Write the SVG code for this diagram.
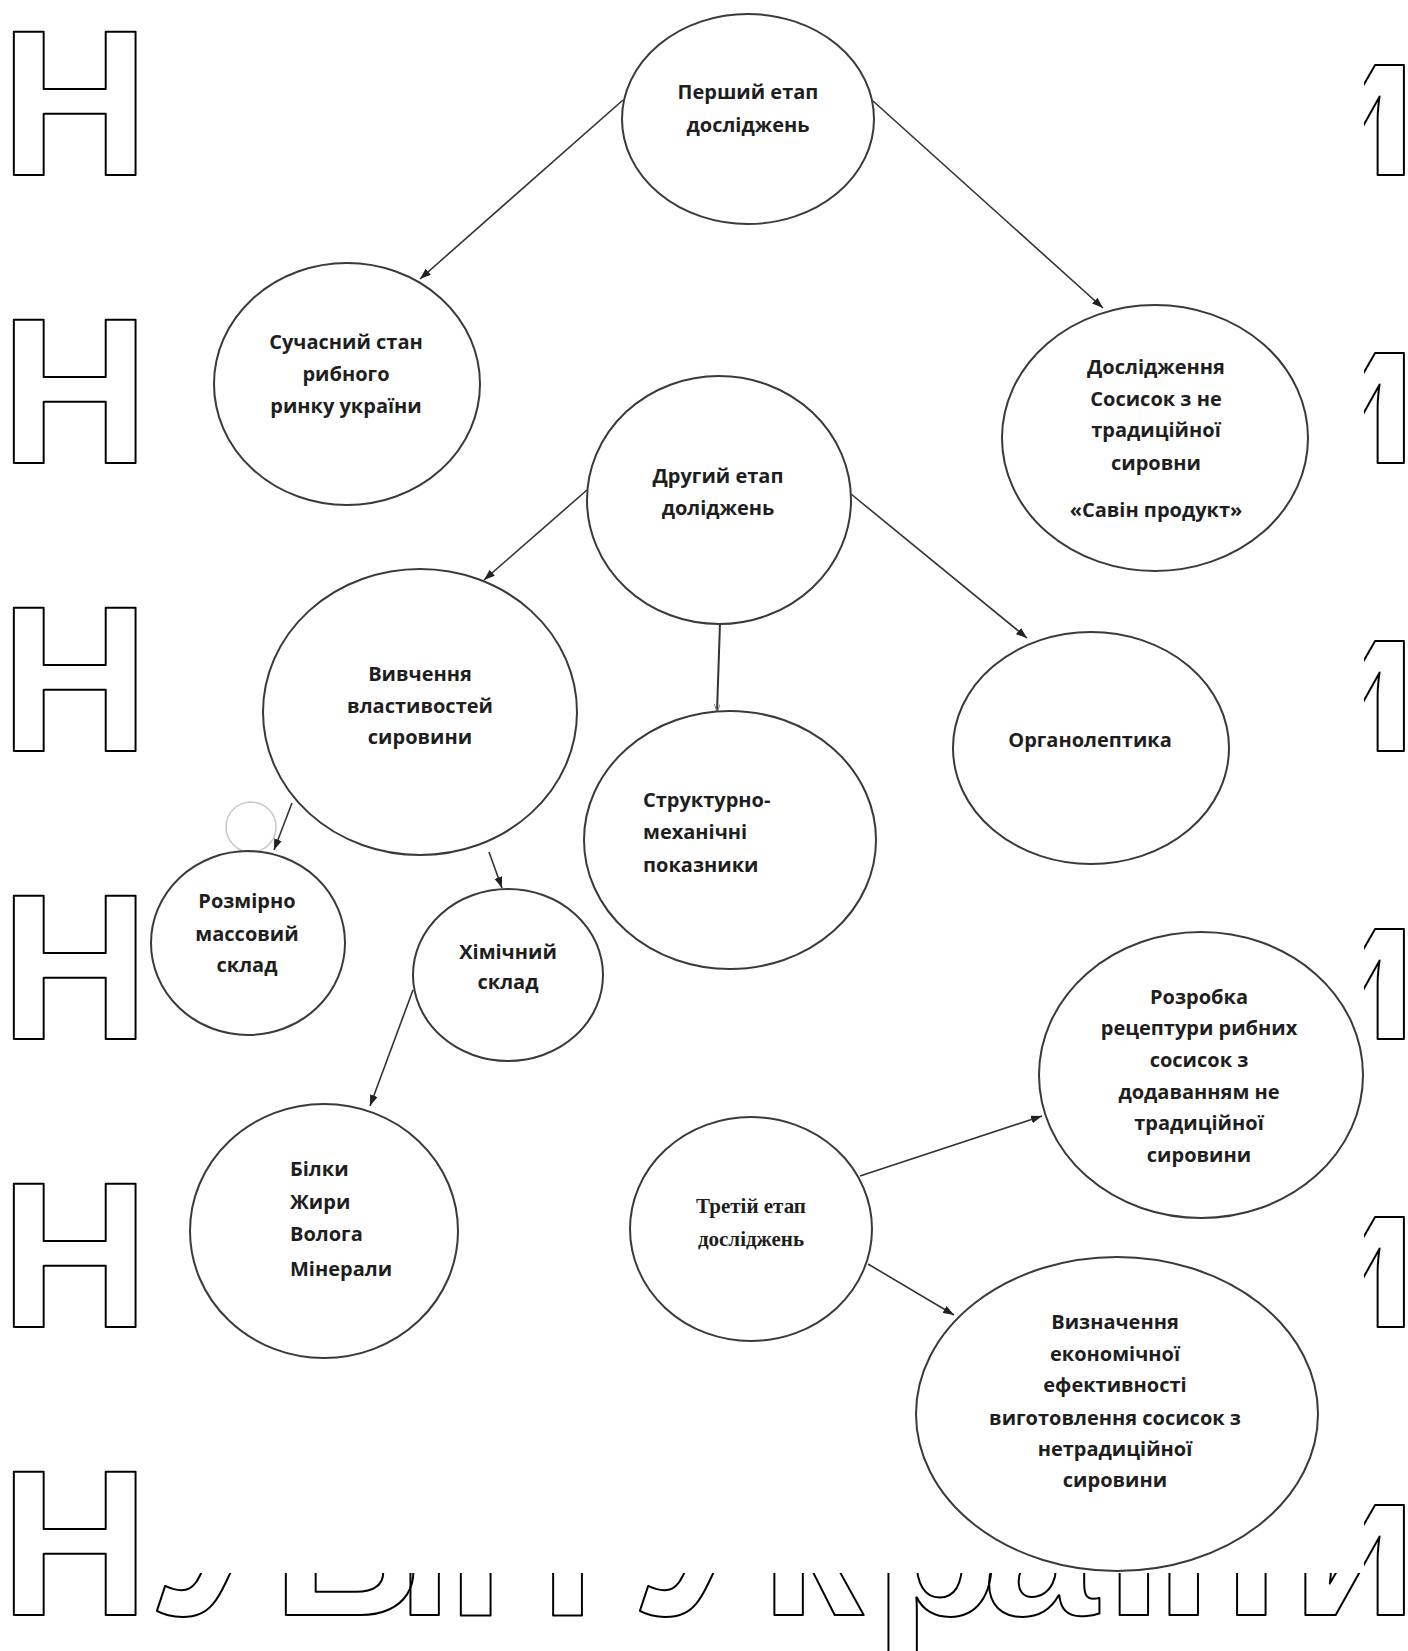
<svg xmlns="http://www.w3.org/2000/svg" width="1408" height="1651" viewBox="0 0 1408 1651">
<style>
.wm{font-family:"Liberation Sans",Arial,sans-serif;font-weight:700;font-size:207px;fill:none;stroke:#000;stroke-width:2;stroke-linejoin:round}
.node ellipse{fill:none;stroke:#3a3a3a;stroke-width:2}
.lbl{font-family:"Open Sans","Noto Sans",sans-serif;font-weight:700;font-size:20px;fill:#1e1e1e;text-anchor:middle}
.lft{text-anchor:start}
.serif{font-family:"Liberation Serif","DejaVu Serif",serif;font-weight:700;font-size:21px;fill:#1e1e1e;text-anchor:middle}
.conn line{stroke:#333;stroke-width:1.6;marker-end:url(#arr)}
</style>
<defs>
<marker id="arr" markerUnits="userSpaceOnUse" markerWidth="11" markerHeight="8" refX="11" refY="4" orient="auto"><path d="M0,0 L11,4 L0,8 z" fill="#222"/></marker>
<marker id="arrs" markerUnits="userSpaceOnUse" markerWidth="8" markerHeight="6" refX="8" refY="3" orient="auto"><path d="M0,0 L8,3 L0,6" fill="none" stroke="#888" stroke-width="1"/></marker>
<clipPath id="wmright"><rect x="1364" y="0" width="44" height="1651"/></clipPath>
<clipPath id="wmbottom">
<rect x="0" y="0" width="143" height="1651"/>
<rect x="1364" y="0" width="44" height="1651"/>
<rect x="0" y="1573" width="1408" height="78"/>
</clipPath>
</defs>
<rect width="1408" height="1651" fill="#fff"/>
<g id="watermark">
<text class="wm" x="0" y="175">Н</text>
<text class="wm" x="0" y="463">Н</text>
<text class="wm" x="0" y="751">Н</text>
<text class="wm" x="0" y="1039">Н</text>
<text class="wm" x="0" y="1327">Н</text>
<g clip-path="url(#wmright)">
<text class="wm" x="1291" y="175">и</text>
<text class="wm" x="1291" y="463">и</text>
<text class="wm" x="1291" y="751">и</text>
<text class="wm" x="1291" y="1039">и</text>
<text class="wm" x="1291" y="1327">и</text>
</g>
<text class="wm" clip-path="url(#wmbottom)" x="0 148 272 396 447 580 631 760 874 983 1105 1155 1291" y="1615">НУБіП України</text>
</g>
<circle cx="251" cy="827" r="25" fill="none" stroke="#c8c8c8" stroke-width="1.5"/>
<g id="connectors" class="conn">
<line x1="623" y1="100" x2="420" y2="279"/>
<line x1="873" y1="101" x2="1103" y2="308"/>
<line x1="587" y1="490" x2="484" y2="580"/>
<line x1="720" y1="623" x2="717" y2="712" style="marker-end:url(#arrs);stroke-width:2"/>
<line x1="851" y1="494" x2="1027" y2="638"/>
<line x1="292" y1="803" x2="274" y2="850"/>
<line x1="489" y1="852" x2="502" y2="888"/>
<line x1="413" y1="990" x2="370" y2="1106"/>
<line x1="860" y1="1176" x2="1042" y2="1116"/>
<line x1="868" y1="1264" x2="954" y2="1315"/>
</g>
<g id="n1" class="node"><ellipse cx="748" cy="119" rx="126" ry="105"/>
<text class="lbl" x="748" y="99">Перший етап</text><text class="lbl" x="748" y="132">досліджень</text></g>
<g id="n2" class="node"><ellipse cx="347" cy="384" rx="133" ry="121"/>
<text class="lbl" x="346" y="349">Сучасний стан</text><text class="lbl" x="346" y="381">рибного</text><text class="lbl" x="346" y="413">ринку україни</text></g>
<g id="n3" class="node"><ellipse cx="1155" cy="438" rx="153" ry="133"/>
<text class="lbl" x="1156" y="374">Дослідження</text><text class="lbl" x="1156" y="406">Сосисок з не</text><text class="lbl" x="1156" y="437">традиційної</text><text class="lbl" x="1156" y="470">сировни</text><text class="lbl" x="1156" y="517">«Савін продукт»</text></g>
<g id="n4" class="node"><ellipse cx="719" cy="500" rx="132" ry="124"/>
<text class="lbl" x="718" y="483">Другий етап</text><text class="lbl" x="718" y="515">доліджень</text></g>
<g id="n5" class="node"><ellipse cx="420" cy="712" rx="157" ry="143"/>
<text class="lbl" x="420" y="681">Вивчення</text><text class="lbl" x="420" y="713">властивостей</text><text class="lbl" x="420" y="744">сировини</text></g>
<g id="n6" class="node"><ellipse cx="730" cy="840" rx="146" ry="129"/>
<text class="lbl lft" x="643" y="807">Структурно-</text><text class="lbl lft" x="643" y="839">механічні</text><text class="lbl lft" x="643" y="872">показники</text></g>
<g id="n7" class="node"><ellipse cx="1091" cy="748" rx="138" ry="116"/>
<text class="lbl" x="1090" y="747">Органолептика</text></g>
<g id="n8" class="node"><ellipse cx="248" cy="943" rx="97" ry="92"/>
<text class="lbl" x="247" y="908">Розмірно</text><text class="lbl" x="247" y="941">массовий</text><text class="lbl" x="247" y="972">склад</text></g>
<g id="n9" class="node"><ellipse cx="508" cy="975" rx="95" ry="86"/>
<text class="lbl" x="508" y="959">Хімічний</text><text class="lbl" x="508" y="989">склад</text></g>
<g id="n10" class="node"><ellipse cx="324" cy="1231" rx="134" ry="127"/>
<text class="lbl lft" x="290" y="1176">Білки</text><text class="lbl lft" x="290" y="1209">Жири</text><text class="lbl lft" x="290" y="1241">Волога</text><text class="lbl lft" x="290" y="1276">Мінерали</text></g>
<g id="n11" class="node"><ellipse cx="751" cy="1229" rx="121" ry="112"/>
<text class="serif" x="751" y="1213">Третій етап</text><text class="serif" x="751" y="1246">досліджень</text></g>
<g id="n12" class="node"><ellipse cx="1201" cy="1075" rx="162" ry="143"/>
<text class="lbl" x="1199" y="1004">Розробка</text><text class="lbl" x="1199" y="1035">рецептури рибних</text><text class="lbl" x="1199" y="1067">сосисок з</text><text class="lbl" x="1199" y="1099">додаванням не</text><text class="lbl" x="1199" y="1130">традиційної</text><text class="lbl" x="1199" y="1162">сировини</text></g>
<g id="n13" class="node"><ellipse cx="1117" cy="1414" rx="201" ry="157"/>
<text class="lbl" x="1115" y="1329">Визначення</text><text class="lbl" x="1115" y="1361">економічної</text><text class="lbl" x="1115" y="1392">ефективності</text><text class="lbl" x="1115" y="1425">виготовлення сосисок з</text><text class="lbl" x="1115" y="1456">нетрадиційної</text><text class="lbl" x="1115" y="1487">сировини</text></g>
</svg>
